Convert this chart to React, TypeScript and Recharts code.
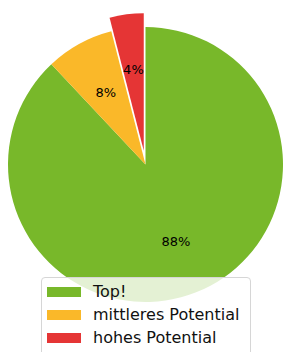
import React from 'react';
import { PieChart, Pie, Cell, Legend } from 'recharts';

const names = ['Top!', 'mittleres Potential', 'hohes Potential'];
const values = [88, 8, 4];
const colors = ['#78b82a', '#fab829', '#e53535'];
const exploded = [0, 0, 0.1];

const font = "'DejaVu Sans', sans-serif";
const W = 284;
const H = 352;
const CX = 145.5;
const CY = 164.5;
const R = 137.5;

const data = names.map((name, i) => ({ name, value: values[i] }));
const total = values.reduce((a, b) => a + b, 0);

// mid angle (deg, counter-clockwise from 3 o'clock) of slice i, drawn clockwise from 12 o'clock
function midAngle(i: number): number {
  const before = values.slice(0, i).reduce((a, b) => a + b, 0);
  return 90 - ((before + values[i] / 2) / total) * 360;
}

const renderLabel = (show: (i: number) => boolean) => (p: any) => {
  if (!show(p.index)) return null;
  const rad = (p.midAngle * Math.PI) / 180;
  const x = p.cx + p.outerRadius * 0.6 * Math.cos(rad);
  const y = p.cy - p.outerRadius * 0.6 * Math.sin(rad);
  return (
    <text x={x} y={y} textAnchor="middle" dominantBaseline="central" fill="#000"
      style={{ fontFamily: font, fontSize: 13 }}>
      {`${Math.round(p.percent * 100)}%`}
    </text>
  );
};

const LegendBox = () => (
  <div style={{
    position: 'absolute', left: 41, top: 277, width: 208, height: 84,
    background: 'rgba(255,255,255,0.8)', border: '1px solid #d6d6d6', borderRadius: 4,
    fontFamily: font, fontSize: 16, color: '#111',
  }}>
    {names.map((n, i) => (
      <div key={n} style={{ position: 'absolute', left: 5, top: 9 + i * 23, height: 10, display: 'flex', alignItems: 'center' }}>
        <div style={{ width: 34, height: 10, background: colors[i] }} />
        <span style={{ marginLeft: 12, lineHeight: '10px', whiteSpace: 'nowrap' }}>{n}</span>
      </div>
    ))}
  </div>
);

export default function App() {
  const offsetIdx = exploded.findIndex((e) => e > 0);
  const a = (midAngle(offsetIdx) * Math.PI) / 180;
  const dx = exploded[offsetIdx] * R * Math.cos(a);
  const dy = -exploded[offsetIdx] * R * Math.sin(a);

  return (
    <div style={{ position: 'fixed', left: 0, top: 0, width: W, height: H, background: '#fff', overflow: 'hidden' }}>
      <PieChart width={W} height={H} margin={{ top: 0, right: 0, bottom: 0, left: 0 }}>
        <Pie data={data} dataKey="value" nameKey="name" cx={CX} cy={CY} outerRadius={R}
          startAngle={90} endAngle={-270} stroke="none" isAnimationActive={false}
          labelLine={false} label={renderLabel((i) => exploded[i] === 0)}>
          {data.map((d, i) => (
            <Cell key={d.name} fill={exploded[i] === 0 ? colors[i] : 'transparent'} />
          ))}
        </Pie>
        <Pie data={data} dataKey="value" nameKey="name" cx={CX + dx} cy={CY + dy} outerRadius={R}
          startAngle={90} endAngle={-270} stroke="none" isAnimationActive={false}
          labelLine={false} label={renderLabel((i) => exploded[i] > 0)}>
          {data.map((d, i) => (
            <Cell key={d.name} fill={exploded[i] > 0 ? colors[i] : 'transparent'} />
          ))}
        </Pie>
        <Legend content={() => null} />
      </PieChart>
      <LegendBox />
    </div>
  );
}
